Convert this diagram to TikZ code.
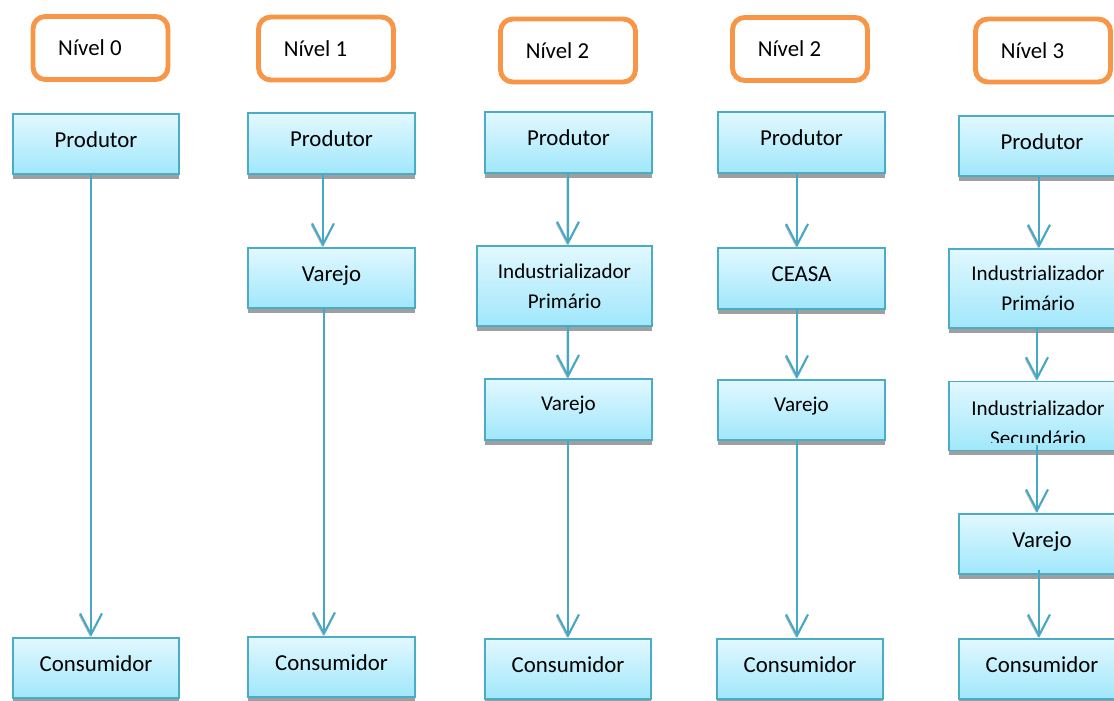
\documentclass[tikz,border=0pt]{standalone}
\usepackage{fontspec}
\setmainfont{Carlito}
\usetikzlibrary{arrows.meta,shadows}
\definecolor{nivelorange}{RGB}{247,150,70}
\definecolor{eloline}{RGB}{75,172,198}
\definecolor{elotop}{RGB}{226,248,255}
\definecolor{elobot}{RGB}{160,231,251}
\definecolor{fluxoblue}{RGB}{70,168,196}

\begin{document}
\begin{tikzpicture}[x=0.02cm,y=-0.02cm,
	nivel/.style={draw=nivelorange, line width=2.8pt, rounded corners=7pt, minimum width=2.7cm, minimum height=1.26cm, inner sep=0pt, font=\fontsize{13}{15}\selectfont},
	elo/.style={draw=eloline, line width=1.1pt, top color=elotop, bottom color=elobot, minimum width=3.33cm, minimum height=1.21cm, inner sep=0pt, text height=0.7em, text depth=0.35em, font=\fontsize{13}{15}\selectfont, drop shadow={shadow xshift=0pt, shadow yshift=-2.8pt, fill=gray!75, opacity=1}},
	menor/.style={font=\fontsize{12}{17}\selectfont, align=center, text height=, text depth=},
	fluxo/.style={draw=fluxoblue, line width=1.2pt, -{Straight Barb[length=12pt, width=12.5pt]}, preaction={draw=gray!60, transform canvas={shift={(-0.6pt,-0.7pt)}}}}]
	\useasboundingbox (0,0) rectangle (1114,700);
	\clip (0,0) rectangle (1114,700);
	\node[nivel] (n0) at (100.5,48) {Nível 0\kern12pt};
	\node[nivel] (n1) at (326,48.5) {Nível 1\kern12pt};
	\node[nivel] (n2) at (568,50.5) {Nível 2\kern12pt};
	\node[nivel] (n3) at (800,49) {Nível 2\kern12pt};
	\node[nivel] (n4) at (1043,50.5) {Nível 3\kern12pt};
	\node[elo] (p0) at (96,144) {Produtor};
	\node[elo] (c0) at (96,668) {Consumidor};
	\node[elo] (p1) at (331.5,143.5) {Produtor};
	\node[elo] (v1) at (331.5,278) {Varejo};
	\node[elo] (c1) at (331.5,667) {Consumidor};
	\node[elo] (p2) at (568.5,142.5) {Produtor};
	\node[elo, menor, minimum width=3.5cm, minimum height=1.6cm] (i2) at (564.5,286) {Industrializador\\Primário};
	\node[elo, font=\fontsize{12}{15}\selectfont, text depth=0.55em] (v2) at (568.5,409.5) {Varejo};
	\node[elo] (c2) at (568,669) {Consumidor};
	\node[elo] (p3) at (801.5,142.5) {Produtor};
	\node[elo] (ce3) at (801.5,278.5) {CEASA};
	\node[elo, font=\fontsize{12}{15}\selectfont, text depth=0.55em] (v3) at (801.5,410) {Varejo};
	\node[elo] (c3) at (800,669) {Consumidor};
	\node[elo] (p4) at (1042,146) {Produtor};
	\node[elo, menor, minimum width=3.56cm, minimum height=1.58cm] (i4) at (1038,288.5) {Industrializador\\Primário};
	\node[elo, minimum width=3.56cm, minimum height=1.38cm] (s4) at (1038,416) {};
	\begin{scope}
		\clip ([shift={(-90,-9)}]s4.south) rectangle ([shift={(90,0)}]s4.north);
		\node[menor] (s4t) at ([shift={(0,7.5)}]s4.center) {Industrializador\\Secundário};
	\end{scope}
	\node[elo] (v4) at (1042,544) {Varejo};
	\node[elo] (c4) at (1042,669) {Consumidor};
	\draw[fluxo] ([shift={(-5,0)}]p0.south) -- ([shift={(-5,0)}]c0.north);
	\draw[fluxo] ([shift={(-8.5,0)}]p1.south) -- ([shift={(-8.5,0)}]v1.north);
	\draw[fluxo] ([shift={(-7.5,0)}]v1.south) -- ([shift={(-7.5,0)}]c1.north);
	\draw[fluxo] ([shift={(-0.5,0)}]p2.south) -- ([shift={(3.5,0)}]i2.north);
	\draw[fluxo] ([shift={(3.5,0)}]i2.south) -- ([shift={(-0.5,0)}]v2.north);
	\draw[fluxo] ([shift={(-0.5,0)}]v2.south) -- (c2.north);
	\draw[fluxo] ([shift={(-4.5,0)}]p3.south) -- ([shift={(-4.5,0)}]ce3.north);
	\draw[fluxo] ([shift={(-4.5,0)}]ce3.south) -- ([shift={(-4.5,0)}]v3.north);
	\draw[fluxo] ([shift={(-4.5,0)}]v3.south) -- ([shift={(-3,0)}]c3.north);
	\draw[fluxo] ([shift={(-3,0)}]p4.south) -- ([shift={(1,0)}]i4.north);
	\draw[fluxo] ([shift={(-1,0)}]i4.south) -- ([shift={(-1,0)}]s4.north);
	\draw[fluxo] ([shift={(-1,-6)}]s4.south) -- ([shift={(-5,0)}]v4.north);
	\draw[fluxo] ([shift={(-3,-5)}]v4.south) -- ([shift={(-3,0)}]c4.north);
\end{tikzpicture}
\end{document}
